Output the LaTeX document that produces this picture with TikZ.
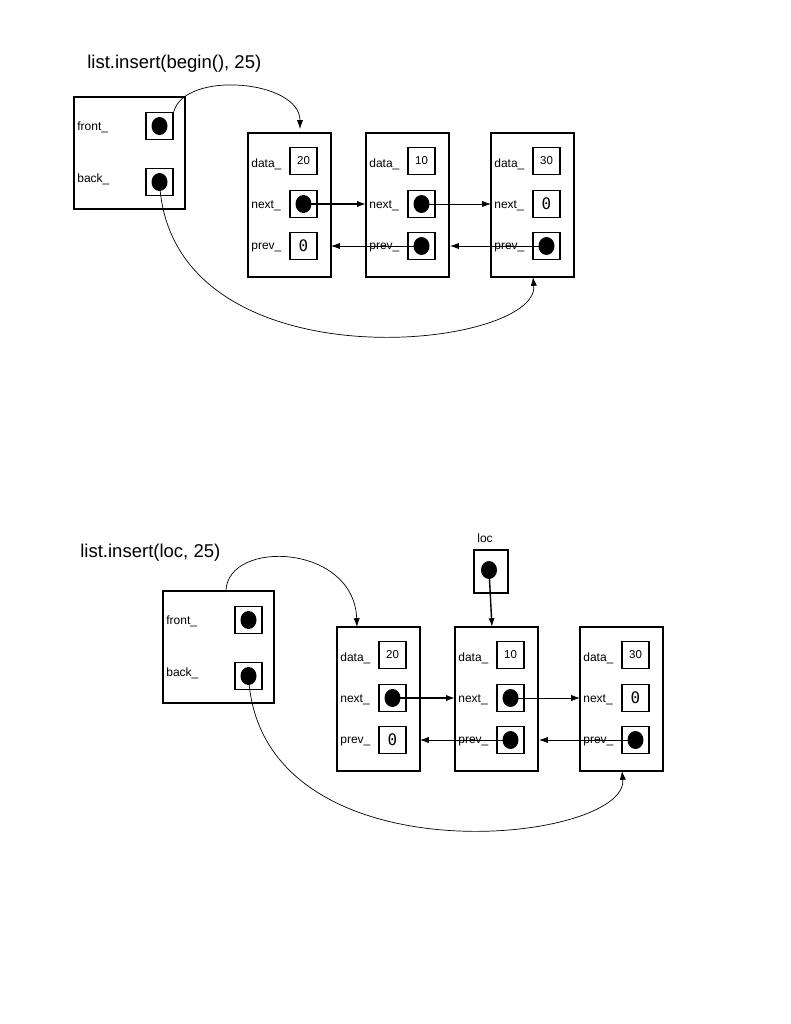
\documentclass[tikz,border=0pt]{standalone}
\usepackage{fontspec}
\setmainfont{Liberation Sans}
\newfontfamily\zerofont{DejaVu Sans Mono}
\usetikzlibrary{arrows.meta}
\newlength{\unitpx}
\setlength{\unitpx}{0.567pt}
\tikzset{
  cell/.style={draw,thick,minimum width=27\unitpx,minimum height=27\unitpx,inner sep=0pt,font=\fontsize{6.5}{7}\selectfont},
  lbl/.style={anchor=west,inner sep=0pt,font=\fontsize{6.8}{8}\selectfont},
  ptr/.style={-{Latex[length=5pt,width=3.5pt]}},
}
% one list node: name, left x, data value, content of the prev cell
\newcommand{\listnode}[4]{%
  \draw[thick] (#2,0) rectangle ++(83,144);
  \node[lbl] at (#2+3,31) {data\_};
  \node[lbl] at (#2+3,73) {next\_};
  \node[lbl] at (#2+3,115) {prev\_};
  \node[cell] (#1d) at (#2+55.5,28) {#3};
  \node[cell] (#1n) at (#2+55.5,71) {};
  \node[cell] (#1p) at (#2+55.5,113) {#4};
}
\newcommand{\listdiagram}{%
  \draw[thick] (74,97) rectangle (185,209);
  \node[lbl] at (77,127) {front\_};
  \node[lbl] at (77,179) {back\_};
  \node[cell] (front) at (159.5,126) {};
  \node[cell] (back) at (159.5,182) {};
  \fill (front.center) ellipse (8 and 9);
  \fill (back.center) ellipse (8 and 9);
  \begin{scope}[shift={(0,133)}]
    \listnode{a}{248}{20}{\zerofont\fontsize{9}{9}\selectfont 0}
    \listnode{b}{366}{10}{}
    \listnode{c}{491}{30}{}
  \end{scope}
  \node[cell,font=\zerofont\fontsize{9}{9}\selectfont] at (cn) {0};
  \foreach \n in {an,bn,bp,cp} \fill (\n.center) ellipse (8 and 9);
  \coordinate (aleft) at (331,246);
  \coordinate (bleft) at (450,246);
  \coordinate (bright) at (366,204);
  \coordinate (cright) at (491,204);
  \draw[ptr,thick] (an.center) -- (bright);
  \draw[ptr] (bn.center) -- (cright);
  \draw[ptr] (bp.center) -- (aleft);
  \draw[ptr] (cp.center) -- (bleft);
  \coordinate (ctail) at (533,277);
  \draw[ptr] (back.center) .. controls (170,390) and (540,350) .. (ctail);
}
\begin{document}
\begin{tikzpicture}[x=\unitpx,y=-\unitpx]
  \useasboundingbox (0,0) rectangle (791,1024);
  % list.insert(begin(), 25)
  \node[anchor=west,inner sep=0pt,font=\fontsize{10.5}{12}\selectfont] at (87,64) {list.insert(begin(), 25)};
  \listdiagram
  \coordinate (atop) at (300,129);
  \draw[ptr] (front.north east) .. controls (185,70) and (300,80) .. (atop);
  % list.insert(loc, 25)
  \node[anchor=west,inner sep=0pt,font=\fontsize{10.5}{12}\selectfont] at (80,553) {list.insert(loc, 25)};
  \begin{scope}[shift={(89,494)}]
    \listdiagram
    \coordinate (atop) at (268,133);
    \coordinate (ostart) at (137,96);
    \draw[ptr] (ostart) .. controls (140,45) and (265,50) .. (atop);
    \node[lbl,anchor=center] at (396,44) {loc};
    \draw[thick] (385,56) rectangle (419,99);
    \coordinate (locdot) at (400,76);
    \fill (locdot) ellipse (8 and 9);
    \coordinate (btop) at (403,133);
    \draw[ptr,thick] (locdot) -- (btop);
  \end{scope}
\end{tikzpicture}
\end{document}
